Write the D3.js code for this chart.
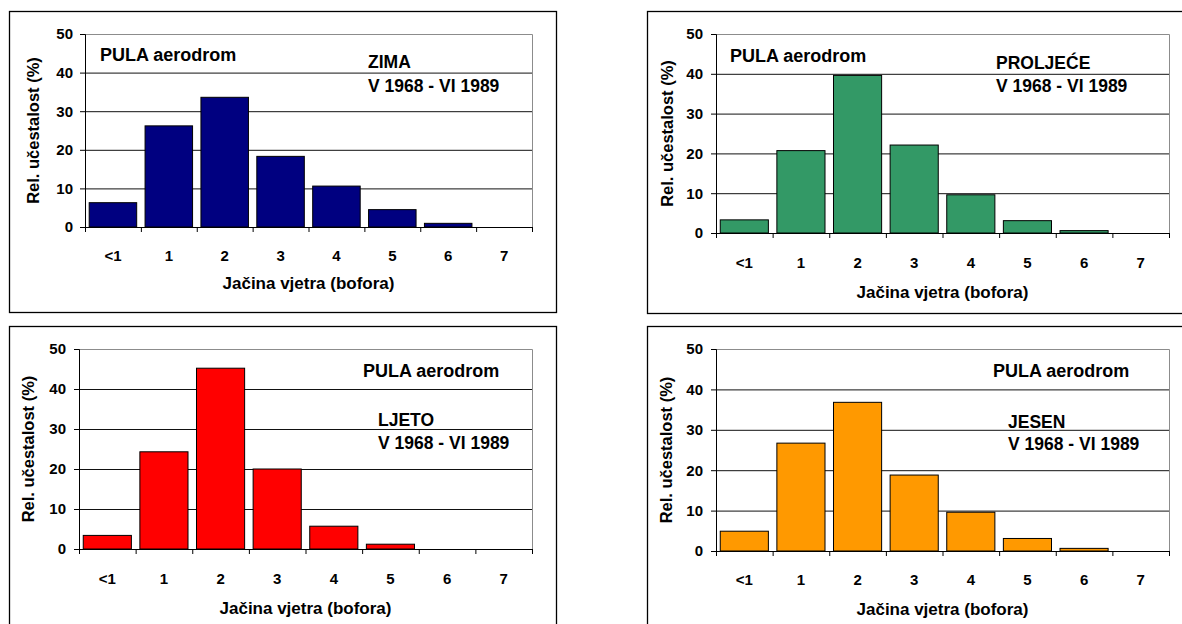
<!DOCTYPE html>
<html>
<head>
<meta charset="utf-8">
<script src="https://cdn.jsdelivr.net/npm/d3@7"></script>
<style>
  body { margin: 0; background: #fff; }
  text { font-family: "Liberation Sans", Arial, sans-serif; font-weight: bold; fill: #000; }
</style>
</head>
<body>
<div id="chart"></div>
<script>
// Wind force classes (Beaufort)
var categories = ["<1", "1", "2", "3", "4", "5", "6", "7"];

// Relative frequency (%) per season
var zima     = [6.3, 26.2, 33.6, 18.3, 10.6, 4.5, 0.95, 0];
var proljece = [3.3, 20.7, 39.6, 22.1, 9.6, 3.1, 0.6, 0];
var ljeto    = [3.4, 24.3, 45.2, 20.0, 5.7, 1.2, 0, 0];
var jesen    = [4.9, 26.7, 36.8, 18.8, 9.6, 3.1, 0.65, 0];

var yTicks = [0, 10, 20, 30, 40, 50];
var xTitle = "Jačina vjetra (bofora)";
var yTitle = "Rel. učestalost (%)";
var station = "PULA aerodrom";
var period = "V 1968 - VI 1989";

// panel layout: outer frame, plot area, annotation spots
var panels = [
  { values: zima, season: "ZIMA", color: "#000080",
    box: [9, 11, 556, 312], plot: [85, 34, 532, 227],
    station: [100, 61], season_at: [368, 68], period_at: [368, 92],
    yTitleX: 33, xLabY: 261, xTitleY: 289, yLabX: 73 },
  { values: proljece, season: "PROLJEĆE", color: "#339966",
    box: [647, 11, 1200, 313], plot: [716, 34, 1169, 233],
    station: [730, 62], season_at: [996, 69], period_at: [996, 92],
    yTitleX: 667, xLabY: 268, xTitleY: 298, yLabX: 703 },
  { values: ljeto, season: "LJETO", color: "#ff0000",
    box: [9, 326, 556, 640], plot: [79, 349, 532, 549],
    station: [363, 377], season_at: [378, 426], period_at: [378, 449],
    yTitleX: 28, xLabY: 584, xTitleY: 614, yLabX: 66 },
  { values: jesen, season: "JESEN", color: "#ff9900",
    box: [647, 326, 1200, 640], plot: [716, 349, 1169, 551],
    station: [993, 377], season_at: [1008, 428], period_at: [1008, 450],
    yTitleX: 666, xLabY: 585, xTitleY: 615, yLabX: 703 }
];

var svg = d3.select("#chart")
  .append("svg")
  .attr("width", 1182)
  .attr("height", 624);

panels.forEach(function(p) {
  var g = svg.append("g");

  // outer frame
  g.append("rect")
    .attr("x", p.box[0] + 0.5)
    .attr("y", p.box[1] + 0.5)
    .attr("width", p.box[2] - p.box[0])
    .attr("height", p.box[3] - p.box[1])
    .attr("fill", "#fff")
    .attr("stroke", "#000")
    .attr("stroke-width", 1.3);

  var left = p.plot[0], top = p.plot[1], right = p.plot[2], bottom = p.plot[3];

  var x = d3.scaleBand()
    .domain(categories)
    .range([left, right])
    .paddingInner(0.15)
    .paddingOuter(0.075);

  // tick marks sit on the category boundaries
  var xEdge = d3.scaleLinear()
    .domain([0, categories.length])
    .range([left, right]);

  var y = d3.scaleLinear()
    .domain([0, 50])
    .range([bottom, top]);

  // gridlines
  g.append("g")
    .attr("transform", "translate(" + left + ",0)")
    .call(d3.axisLeft(y)
      .tickValues([10, 20, 30, 40])
      .tickSize(-(right - left))
      .tickFormat(""))
    .call(function(a) { a.select(".domain").remove(); })
    .call(function(a) { a.selectAll(".tick line").attr("stroke", "#111").attr("stroke-width", 1); });

  // plot-area border (top and right, gray)
  g.append("path")
    .attr("d", "M" + left + "," + (y(50) + 0.5) + "H" + (right + 0.5) + "V" + bottom)
    .attr("fill", "none")
    .attr("stroke", "#8c8c8c")
    .attr("stroke-width", 1);

  // bars
  g.selectAll(".bar")
    .data(p.values)
    .enter()
    .append("rect")
      .attr("class", "bar")
      .attr("x", function(d, i) { return x(categories[i]); })
      .attr("y", function(d) { return y(d); })
      .attr("width", x.bandwidth())
      .attr("height", function(d) { return bottom - y(d); })
      .attr("fill", p.color)
      .attr("stroke", function(d) { return d > 0 ? "#000" : "none"; })
      .attr("stroke-width", 1);

  // y axis
  g.append("g")
    .attr("transform", "translate(" + left + ",0)")
    .call(d3.axisLeft(y)
      .tickValues(yTicks)
      .tickSize(5)
      .tickPadding(left - p.yLabX - 5))
    .call(function(a) { a.select(".domain").attr("stroke", "#000"); })
    .call(function(a) { a.selectAll(".tick text")
      .style("font-size", "15px")
      .style("font-family", "'Liberation Sans', Arial, sans-serif")
      .style("font-weight", "bold"); });

  // x axis (ticks at band edges, no labels)
  g.append("g")
    .attr("transform", "translate(0," + bottom + ")")
    .call(d3.axisBottom(xEdge)
      .tickValues(d3.range(categories.length + 1))
      .tickSize(5)
      .tickSizeOuter(0)
      .tickFormat(""))
    .call(function(a) { a.select(".domain").attr("stroke", "#000"); });

  // x category labels
  g.selectAll(".xlab")
    .data(categories)
    .enter()
    .append("text")
      .attr("class", "xlab")
      .attr("x", function(d) { return x(d) + x.bandwidth() / 2; })
      .attr("y", p.xLabY)
      .attr("text-anchor", "middle")
      .style("font-size", "15px")
      .text(function(d) { return d; });

  // axis titles
  g.append("text")
    .attr("x", (left + right) / 2)
    .attr("y", p.xTitleY)
    .attr("text-anchor", "middle")
    .style("font-size", "17px")
    .text(xTitle);

  g.append("text")
    .attr("transform", "translate(" + (p.yTitleX + 6) + "," + ((top + bottom) / 2) + ") rotate(-90)")
    .attr("text-anchor", "middle")
    .style("font-size", "16.5px")
    .text(yTitle);

  // annotations
  g.append("text")
    .attr("x", p.station[0]).attr("y", p.station[1])
    .style("font-size", "18px")
    .text(station);
  g.append("text")
    .attr("x", p.season_at[0]).attr("y", p.season_at[1])
    .style("font-size", "17.5px")
    .text(p.season);
  g.append("text")
    .attr("x", p.period_at[0]).attr("y", p.period_at[1])
    .style("font-size", "17.5px")
    .text(period);
});
</script>
</body>
</html>
